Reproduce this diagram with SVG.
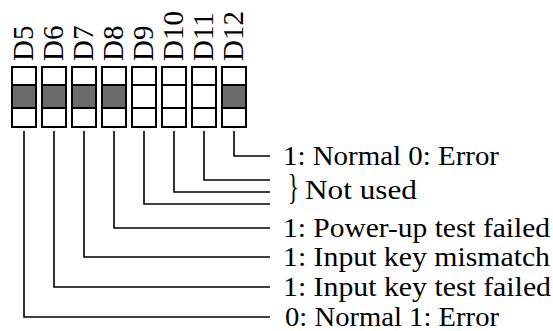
<svg xmlns="http://www.w3.org/2000/svg" width="553" height="331" viewBox="0 0 553 331">
<style>
text{font-family:'Liberation Serif','Times New Roman',Times,serif;fill:#000}
.lbl{font-size:27px}
.dl{font-size:29px}
.box{fill:#fff;stroke:#000;stroke-width:2}
.on{fill:#6b6b6b;stroke:#000;stroke-width:2}
.off{fill:#fff;stroke:#000;stroke-width:2}
.conn{fill:none;stroke:#000;stroke-width:1.6}
</style>
<g id="switches">
<g id="D5"><rect class="box" x="12" y="67" width="24" height="60"/><rect class="on" x="12" y="85" width="24" height="23"/><text class="dl" transform="translate(33,61) rotate(-90)">D5</text></g>
<g id="D6"><rect class="box" x="42" y="67" width="24" height="60"/><rect class="on" x="42" y="85" width="24" height="23"/><text class="dl" transform="translate(63,61) rotate(-90)">D6</text></g>
<g id="D7"><rect class="box" x="72" y="67" width="24" height="60"/><rect class="on" x="72" y="85" width="24" height="23"/><text class="dl" transform="translate(93,61) rotate(-90)">D7</text></g>
<g id="D8"><rect class="box" x="102" y="67" width="24" height="60"/><rect class="on" x="102" y="85" width="24" height="23"/><text class="dl" transform="translate(123,61) rotate(-90)">D8</text></g>
<g id="D9"><rect class="box" x="132" y="67" width="24" height="60"/><rect class="off" x="132" y="85" width="24" height="23"/><text class="dl" transform="translate(153,61) rotate(-90)">D9</text></g>
<g id="D10"><rect class="box" x="162" y="67" width="24" height="60"/><rect class="off" x="162" y="85" width="24" height="23"/><text class="dl" transform="translate(183,61) rotate(-90)">D10</text></g>
<g id="D11"><rect class="box" x="192" y="67" width="24" height="60"/><rect class="off" x="192" y="85" width="24" height="23"/><text class="dl" transform="translate(213,61) rotate(-90)">D11</text></g>
<g id="D12"><rect class="box" x="222" y="67" width="24" height="60"/><rect class="on" x="222" y="85" width="24" height="23"/><text class="dl" transform="translate(243,61) rotate(-90)">D12</text></g>
</g>
<g id="connectors">
<polyline class="conn" points="234,131 234,156 270,156"/>
<polyline class="conn" points="204,131 204,180 270,180"/>
<polyline class="conn" points="174,131 174,192 270,192"/>
<polyline class="conn" points="144,131 144,204 270,204"/>
<polyline class="conn" points="114,131 114,228 270,228"/>
<polyline class="conn" points="84,131 84,257 270,257"/>
<polyline class="conn" points="54,131 54,287 270,287"/>
<polyline class="conn" points="24,131 24,317 270,317"/>
</g>
<g id="labels">
<text class="lbl" x="283" y="165" textLength="216" lengthAdjust="spacingAndGlyphs">1: Normal 0: Error</text>
<text transform="translate(288,199) scale(0.8,1.25)" style="font-size:28px">}</text>
<text class="lbl" x="305" y="199" textLength="112" lengthAdjust="spacingAndGlyphs">Not used</text>
<text class="lbl" x="283" y="237" textLength="267" lengthAdjust="spacingAndGlyphs">1: Power-up test failed</text>
<text class="lbl" x="283" y="266" textLength="267" lengthAdjust="spacingAndGlyphs">1: Input key mismatch</text>
<text class="lbl" x="283" y="296" textLength="268" lengthAdjust="spacingAndGlyphs">1: Input key test failed</text>
<text class="lbl" x="285" y="326" textLength="214" lengthAdjust="spacingAndGlyphs">0: Normal 1: Error</text>
</g>
</svg>
